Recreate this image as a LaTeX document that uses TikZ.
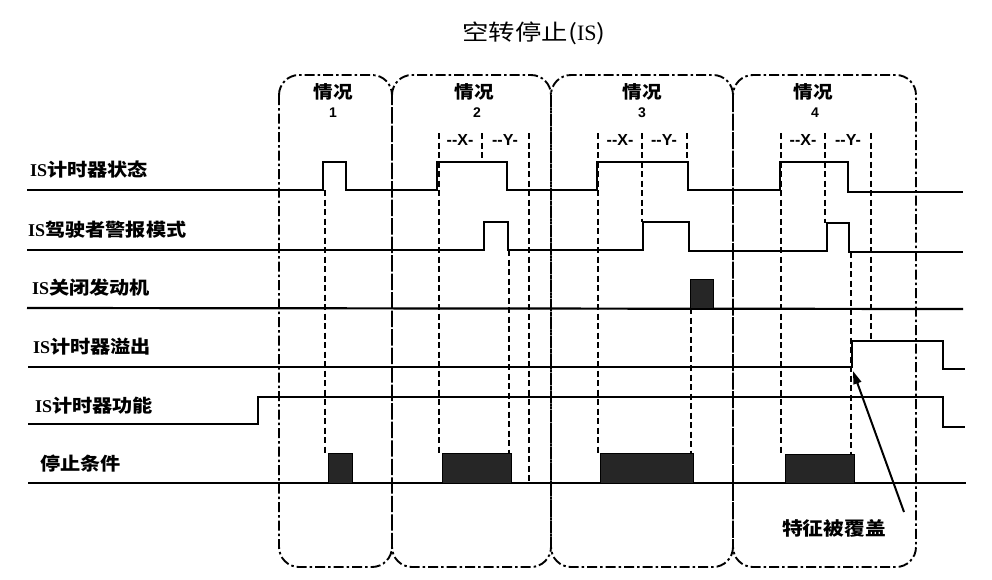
\documentclass[tikz,border=0pt]{standalone}
\usepackage{fontspec}
\usetikzlibrary{arrows.meta}
\newfontfamily\cjk[FakeStretch=1.12]{Noto Sans CJK SC}
\newfontfamily\cjktitle[FakeStretch=1.2]{Noto Sans CJK SC}
\newfontfamily\lsans{Liberation Sans}
\newfontfamily\lserif{Liberation Serif}
\begin{document}
\begin{tikzpicture}[x=1pt,y=-1pt,
  sig/.style={line width=2.2pt, line join=miter},
  guide/.style={line width=1.9pt, dash pattern=on 6pt off 3.5pt},
  casebox/.style={line width=1.9pt, dash pattern=on 10pt off 3pt on 2.5pt off 3pt, rounded corners=20pt},
  blk/.style={fill=black!85, draw=black, line width=1pt},
  rowlbl/.style={anchor=west, inner sep=0pt, font=\fontsize{18}{18}\selectfont\bfseries\cjk},
  caselbl/.style={inner sep=0pt, font=\fontsize{17.5}{18}\selectfont\bfseries\cjk},
  casenum/.style={inner sep=0pt, font=\fontsize{14}{14}\selectfont\bfseries\lsans},
  xylbl/.style={inner sep=0pt, font=\fontsize{16}{16}\selectfont\bfseries\lsans}]
\useasboundingbox[fill=white] (0,0) rectangle (992,579);

% title
\node[inner sep=0pt, font=\fontsize{22}{22}\selectfont\cjktitle] (title) at (534,33) {空转停止({\lserif IS})};

% case boxes
\draw[casebox] (279,75) rectangle (392,567);
\draw[casebox] (392,75) rectangle (551,567);
\draw[casebox] (551,75) rectangle (733,567);
\draw[casebox] (733,75) rectangle (916,567);

\node[caselbl] (c1) at (333,92) {情况};
\node[casenum] (n1) at (333,113) {1};
\node[caselbl] (c2) at (474,92) {情况};
\node[casenum] (n2) at (477,113) {2};
\node[caselbl] (c3) at (642,92) {情况};
\node[casenum] (n3) at (642,113) {3};
\node[caselbl] (c4) at (813,92) {情况};
\node[casenum] (n4) at (815,113) {4};

% X / Y labels
\node[xylbl] (x2) at (460,140) {-{}-X-};
\node[xylbl] (y2) at (505,140) {-{}-Y-};
\node[xylbl] (x3) at (620,140) {-{}-X-};
\node[xylbl] (y3) at (664,140) {-{}-Y-};
\node[xylbl] (x4) at (803,140) {-{}-X-};
\node[xylbl] (y4) at (848,140) {-{}-Y-};

% row labels
\node[rowlbl] (r1) at (30,170) {{\lserif IS}计时器状态};
\node[rowlbl] (r2) at (28,230) {{\lserif IS}驾驶者警报模式};
\node[rowlbl] (r3) at (32,288) {{\lserif IS}关闭发动机};
\node[rowlbl] (r4) at (33,347) {{\lserif IS}计时器溢出};
\node[rowlbl] (r5) at (35,406) {{\lserif IS}计时器功能};
\node[rowlbl] (r6) at (40,464) {停止条件};

% guide (dashed) lines
\draw[guide] (325,190) -- (325,453);
\draw[guide] (439,133) -- (439,453);
\draw[guide] (482,133) -- (482,162);
\draw[guide] (529,133) -- (529,483);
\draw[guide] (509,250) -- (509,453);
\draw[guide] (598,133) -- (598,453);
\draw[guide] (642,133) -- (642,222);
\draw[guide] (687,133) -- (687,162);
\draw[guide] (691,308) -- (691,453);
\draw[guide] (781,133) -- (781,454);
\draw[guide] (825,133) -- (825,223);
\draw[guide] (871,133) -- (871,341);
\draw[guide] (851,252) -- (851,454);

% signals
\draw[sig] (27,190) -- (323,190) -- (323,162) -- (346,162) -- (346,190) -- (437,190) -- (437,162) -- (507,162) -- (507,190)
  -- (597,190) -- (597,162) -- (688,162) -- (688,190) -- (780,190) -- (780,162) -- (848,162) -- (848,192) -- (963,192);
\draw[sig] (27,250) -- (484,250) -- (484,222) -- (508,222) -- (508,250) -- (643,250) -- (643,222) -- (689,222) -- (689,251)
  -- (827,251) -- (827,223) -- (849,223) -- (849,252) -- (963,252);
\draw[sig] (27,308) -- (963,309);
\draw[blk] (690,279) rectangle (713,308);
\draw[sig] (28,367) -- (852,367) -- (852,341) -- (943,341) -- (943,369) -- (965,369);
\draw[sig] (28,424) -- (258,424) -- (258,397) -- (943,397) -- (943,427) -- (965,427);
\draw[sig] (28,483) -- (966,483);
\draw[blk] (328,453) rectangle (352,483);
\draw[blk] (442,453) rectangle (511,483);
\draw[blk] (600,453) rectangle (693,483);
\draw[blk] (785,454) rectangle (854,483);

% annotation
\node[caselbl, font=\fontsize{18.5}{19}\selectfont\bfseries\cjk] (note) at (834,528) {特征被覆盖};
\coordinate (tail) at (904,512);
\coordinate (head) at (853,371);
\draw[line width=2pt, -{Triangle[length=13pt,width=8pt]}] (tail) -- (head);
\end{tikzpicture}
\end{document}
